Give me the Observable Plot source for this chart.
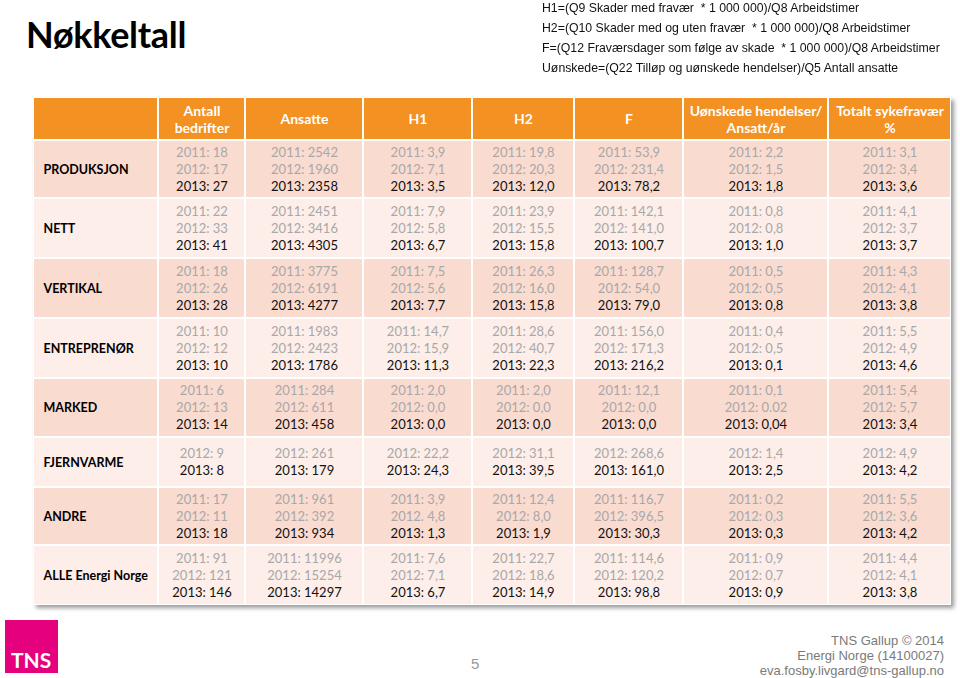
<!DOCTYPE html>
<html><head><meta charset="utf-8">
<script src="https://cdn.jsdelivr.net/npm/d3@7"></script>
<script src="https://cdn.jsdelivr.net/npm/@observablehq/plot@0.6"></script>
<style>
html,body{margin:0;padding:0;background:#fff;}
#page{position:relative;width:960px;height:678px;overflow:hidden;font-family:Lato,"Open Sans",sans-serif;}
#title{position:absolute;left:26px;top:12px;font-weight:700;font-size:36px;line-height:44px;color:#000;letter-spacing:-0.3px;}
#defs{position:absolute;left:542px;top:-2px;font-family:"Liberation Sans",Arial,sans-serif;font-size:13px;line-height:20px;color:#111;white-space:pre;transform:scaleX(0.945);transform-origin:0 0;}
#chart{position:absolute;left:0;top:90px;}
#logo{position:absolute;left:5px;top:620px;width:53px;height:53px;background:#E5007D;}
#logo span{position:absolute;left:6px;bottom:1px;color:#fff;font-weight:700;font-size:21px;}
#pageno{position:absolute;left:471px;top:655px;color:#999;font-size:15px;font-family:"Liberation Sans",sans-serif;}
#foot{position:absolute;right:16px;top:633px;text-align:right;font-family:"Liberation Sans",sans-serif;font-size:13px;line-height:15px;color:#7a7a7a;}
</style></head>
<body>
<div id="page">
  <div id="title">Nøkkeltall</div>
  <div id="defs"></div>
  <div id="chart"></div>
  <div id="logo"><span>TNS</span></div>
  <div id="pageno">5</div>
  <div id="foot"></div>
</div>
<script>
// ---------- text ----------
const titleText = "Nøkkeltall";
const definitions = [
  "H1=(Q9 Skader med fravær  * 1 000 000)/Q8 Arbeidstimer",
  "H2=(Q10 Skader med og uten fravær  * 1 000 000)/Q8 Arbeidstimer",
  "F=(Q12 Fraværsdager som følge av skade  * 1 000 000)/Q8 Arbeidstimer",
  "Uønskede=(Q22 Tilløp og uønskede hendelser)/Q5 Antall ansatte"
];
const footerLines = ["TNS Gallup © 2014", "Energi Norge (14100027)", "eva.fosby.livgard@tns-gallup.no"];

// ---------- data ----------
const rowLabels = ["PRODUKSJON","NETT","VERTIKAL","ENTREPRENØR","MARKED","FJERNVARME","ANDRE","ALLE Energi Norge"];
const columnLabels = ["Antall\nbedrifter","Ansatte","H1","H2","F","Uønskede hendelser/\nAnsatt/år","Totalt sykefravær\n%"];
const years = ["2011","2012","2013"];
// one entry per row, values per year (null = not reported)
const antallBedrifter = [["18","17","27"],["22","33","41"],["18","26","28"],["10","12","10"],["6","13","14"],[null,"9","8"],["17","11","18"],["91","121","146"]];
const ansatte = [["2542","1960","2358"],["2451","3416","4305"],["3775","6191","4277"],["1983","2423","1786"],["284","611","458"],[null,"261","179"],["961","392","934"],["11996","15254","14297"]];
const h1 = [["3,9","7,1","3,5"],["7,9","5,8","6,7"],["7,5","5,6","7,7"],["14,7","15,9","11,3"],["2,0","0,0","0,0"],[null,"22,2","24,3"],["3,9","4,8","1,3"],["7,6","7,1","6,7"]];
const h2 = [["19,8","20,3","12,0"],["23,9","15,5","15,8"],["26,3","16,0","15,8"],["28,6","40,7","22,3"],["2,0","0,0","0,0"],[null,"31,1","39,5"],["12,4","8,0","1,9"],["22,7","18,6","14,9"]];
const fValues = [["53,9","231,4","78,2"],["142,1","141,0","100,7"],["128,7","54,0","79,0"],["156,0","171,3","216,2"],["12,1","0,0","0,0"],[null,"268,6","161,0"],["116,7","396,5","30,3"],["114,6","120,2","98,8"]];
const uonskede = [["2,2","1,5","1,8"],["0,8","0,8","1,0"],["0,5","0,5","0,8"],["0,4","0,5","0,1"],["0,1","0.02","0,04"],[null,"1,4","2,5"],["0,2","0,3","0,3"],["0,9","0,7","0,9"]];
const sykefravaer = [["3,1","3,4","3,6"],["4,1","3,7","3,7"],["4,3","4,1","3,8"],["5,5","4,9","4,6"],["5,4","5,7","3,4"],[null,"4,9","4,2"],["5,5","3,6","4,2"],["4,4","4,1","3,8"]];
// label separator as printed in the source (one cell uses a period)
const separatorExceptions = {"ANDRE|H1|2012": ". "};

// ---------- layout ----------
const colWidths = [125, 87, 118, 109, 102, 109, 145, 123];
const rowHeights = [43, 58, 60, 60, 60, 59, 50, 58, 60];
const lineGap = 17;
const colors = {header:"#F39123", rowDark:"#FADBD0", rowLight:"#FDEEE9", old:"#A8A8A8", current:"#111111", shadow:"#9a9a9a"};

// ---------- build ----------
document.getElementById("title").textContent = titleText;
document.getElementById("defs").textContent = definitions.join("\n");
document.getElementById("foot").innerHTML = footerLines.join("<br>");

const cumX = [0]; colWidths.forEach(w => cumX.push(cumX[cumX.length-1] + w));
const cumY = [0]; rowHeights.forEach(h => cumY.push(cumY[cumY.length-1] + h));
const totalW = cumX[cumX.length-1], totalH = cumY[cumY.length-1];

const series = [antallBedrifter, ansatte, h1, h2, fValues, uonskede, sykefravaer];
const seriesKeys = ["Antall","Ansatte","H1","H2","F","Uønskede","Syk"];

const cells = [];
for (let r = 0; r < rowHeights.length; r++) {
  for (let c = 0; c < colWidths.length; c++) {
    cells.push({x1: cumX[c], x2: cumX[c+1], y1: cumY[r], y2: cumY[r+1],
      fill: r === 0 ? colors.header : (r % 2 === 1 ? colors.rowDark : colors.rowLight)});
  }
}
const headerText = columnLabels.map((t, i) => ({x: (cumX[i+1] + cumX[i+2]) / 2, y: rowHeights[0] / 2, text: t}));
const rowText = rowLabels.map((t, i) => ({x: 0, y: (cumY[i+1] + cumY[i+2]) / 2, text: t}));
const lines = [];
rowLabels.forEach((row, r) => {
  series.forEach((s, c) => {
    const vals = years.map((y, i) => ({year: y, v: s[r][i]})).filter(d => d.v != null);
    const n = vals.length;
    vals.forEach((d, i) => {
      const sep = separatorExceptions[`${row}|${seriesKeys[c]}|${d.year}`] ?? ": ";
      lines.push({
        x: (cumX[c+1] + cumX[c+2]) / 2,
        y: (cumY[r+1] + cumY[r+2]) / 2,
        k: i - (n - 1) / 2,
        text: d.year + sep + d.v,
        fill: d.year === "2013" ? colors.current : colors.old
      });
    });
  });
});
const offsets = [...new Set(lines.map(d => d.k))];

const plot = Plot.plot({
  width: 960, height: 525,
  marginLeft: 33, marginRight: 9, marginTop: 7, marginBottom: 10,
  x: {type: "linear", domain: [0, totalW], axis: null},
  y: {type: "linear", domain: [0, totalH], reverse: true, axis: null},
  color: {type: "identity"},
  style: {fontFamily: "Lato, 'Open Sans', sans-serif", fontSize: "13px", background: "transparent"},
  marks: [
    Plot.rect([{}], {x1: 0, x2: totalW, y1: 0, y2: totalH, fill: colors.shadow, dx: 3, dy: 3, imageFilter: "blur(2px)"}),
    Plot.rect([{}], {x1: 0, x2: totalW, y1: 0, y2: totalH, fill: "white"}),
    Plot.rect(cells, {x1: "x1", x2: "x2", y1: "y1", y2: "y2", fill: "fill", inset: 1}),
    Plot.text(headerText, {x: "x", y: "y", text: "text", fill: "white", fontWeight: "bold", fontSize: 14, lineHeight: 1.2}),
    Plot.text(rowText, {x: "x", y: "y", text: "text", fill: "#000", fontWeight: "bold", fontSize: 12.5, textAnchor: "start", dx: 10}),
    ...offsets.map(k => Plot.text(lines.filter(d => d.k === k), {x: "x", y: "y", text: "text", fill: "fill", fontSize: 13, dy: k * lineGap}))
  ]
});
document.getElementById("chart").appendChild(plot);
</script>
</body></html>
